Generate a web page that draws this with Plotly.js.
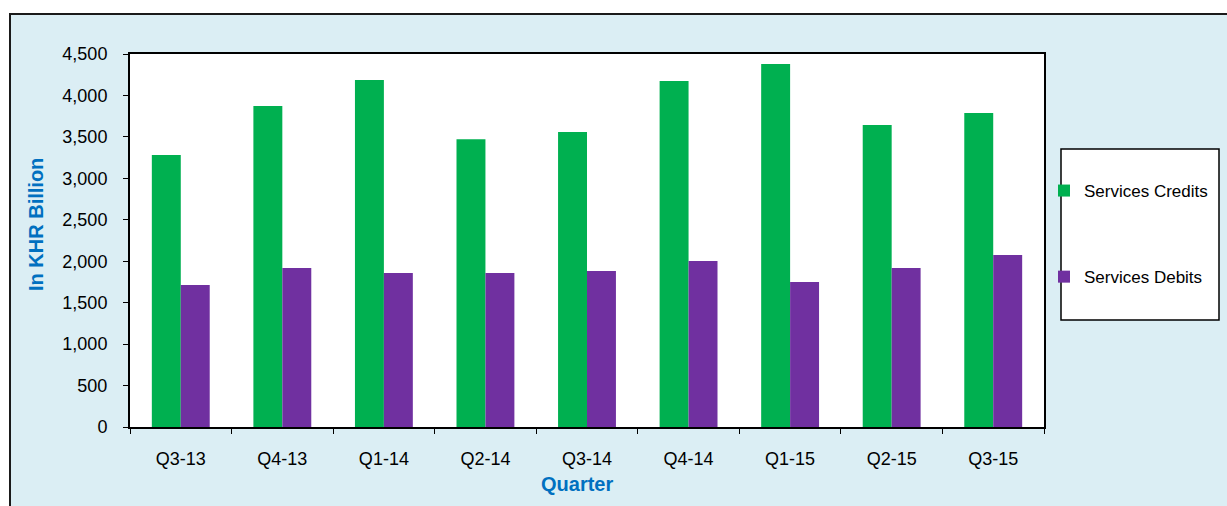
<!DOCTYPE html>
<html>
<head>
<meta charset="utf-8">
<script src="https://cdn.plot.ly/plotly-3.0.1.min.js"></script>
<style>html,body{margin:0;padding:0;background:#fff;}#chart{width:1227px;height:506px;}</style>
</head>
<body>
<div id="chart"></div>
<script>
const quarters = ["Q3-13","Q4-13","Q1-14","Q2-14","Q3-14","Q4-14","Q1-15","Q2-15","Q3-15"];
const servicesCredits = [3281, 3872, 4185, 3473, 3558, 4173, 4378, 3642, 3787];
const servicesDebits  = [1713, 1918, 1857, 1857, 1881, 2002, 1749, 1918, 2075];
const yTickVals = [0,500,1000,1500,2000,2500,3000,3500,4000,4500];
const xTitle = "Quarter";
const yTitle = "In KHR Billion";

const FONT = "Liberation Sans, Arial, sans-serif";
const BLUE = "#0070C0";

const W = 1227, H = 506;
const L = 130, R = 1044, T = 54, B = 427;
const px = x => (x - L) / (R - L);
const py = y => (B - y) / (B - T);

const traces = [
  {type:"bar", name:"Services Credits", x:quarters, y:servicesCredits,
   marker:{color:"#00B050"}, legendgroup:"a"},
  {type:"bar", name:"Services Debits", x:quarters, y:servicesDebits,
   marker:{color:"#7030A0"}, legendgroup:"b"}
];

const layout = {
  width: W, height: H,
  margin: {l: L, r: W - R, t: T, b: H - B, pad: 0},
  paper_bgcolor: "#DBEEF4",
  plot_bgcolor: "#FFFFFF",
  barmode: "group",
  bargap: 0.43,
  bargroupgap: 0,
  font: {family: FONT, size: 18, color: "#000"},
  showlegend: true,
  legend: {
    x: px(1044), y: py(173), xanchor: "left", yanchor: "top",
    bgcolor: "rgba(0,0,0,0)", borderwidth: 0,
    font: {family: FONT, size: 17, color: "#000"},
    tracegroupgap: 61, traceorder: "grouped"
  },
  xaxis: {
    type: "category",
    showline: true, linecolor: "#000", linewidth: 2, mirror: true,
    ticks: "outside", tickson: "boundaries", ticklen: 5, tickcolor: "#000", tickwidth: 1,
    ticklabelstandoff: 14,
    showgrid: false, zeroline: false,
    tickfont: {family: FONT, size: 18, color: "#000"}
  },
  yaxis: {
    range: [0, 4500],
    tickvals: yTickVals,
    tickformat: ",d",
    showline: true, linecolor: "#000", linewidth: 2, mirror: true,
    ticks: "outside", ticklen: 5, tickcolor: "#000", tickwidth: 1,
    ticklabelstandoff: 12,
    showgrid: false, zeroline: false,
    tickfont: {family: FONT, size: 18, color: "#000"}
  },
  annotations: [
    {xref:"paper", yref:"paper", x:px(577), y:py(484), xanchor:"center", yanchor:"middle",
     text:"<b>" + xTitle + "</b>", showarrow:false, font:{family: FONT, size: 20, color: BLUE}},
    {xref:"paper", yref:"paper", x:px(36), y:py(225), xanchor:"center", yanchor:"middle",
     text:"<b>" + yTitle + "</b>", textangle:-90, showarrow:false, font:{family: FONT, size: 20, color: BLUE}}
  ],
  shapes: [
    {type:"rect", xref:"paper", yref:"paper", x0:-1, x1:2, y0:py(14), y1:2,
     fillcolor:"#FFFFFF", line:{width:0}, layer:"below"},
    {type:"rect", xref:"paper", yref:"paper", x0:-1, x1:px(10), y0:-1, y1:2,
     fillcolor:"#FFFFFF", line:{width:0}, layer:"below"},
    {type:"rect", xref:"paper", yref:"paper", x0:px(10), x1:px(1240), y0:py(520), y1:py(14),
     fillcolor:"rgba(0,0,0,0)", line:{color:"#1a1a1a", width:2}, layer:"below"},
    {type:"rect", xref:"paper", yref:"paper", x0:px(1061), x1:px(1219), y0:py(320), y1:py(149),
     fillcolor:"#FFFFFF", line:{color:"#000", width:1.5}, layer:"below"}
  ]
};

Plotly.newPlot("chart", traces, layout, {displayModeBar: false, staticPlot: true});
</script>
</body>
</html>
